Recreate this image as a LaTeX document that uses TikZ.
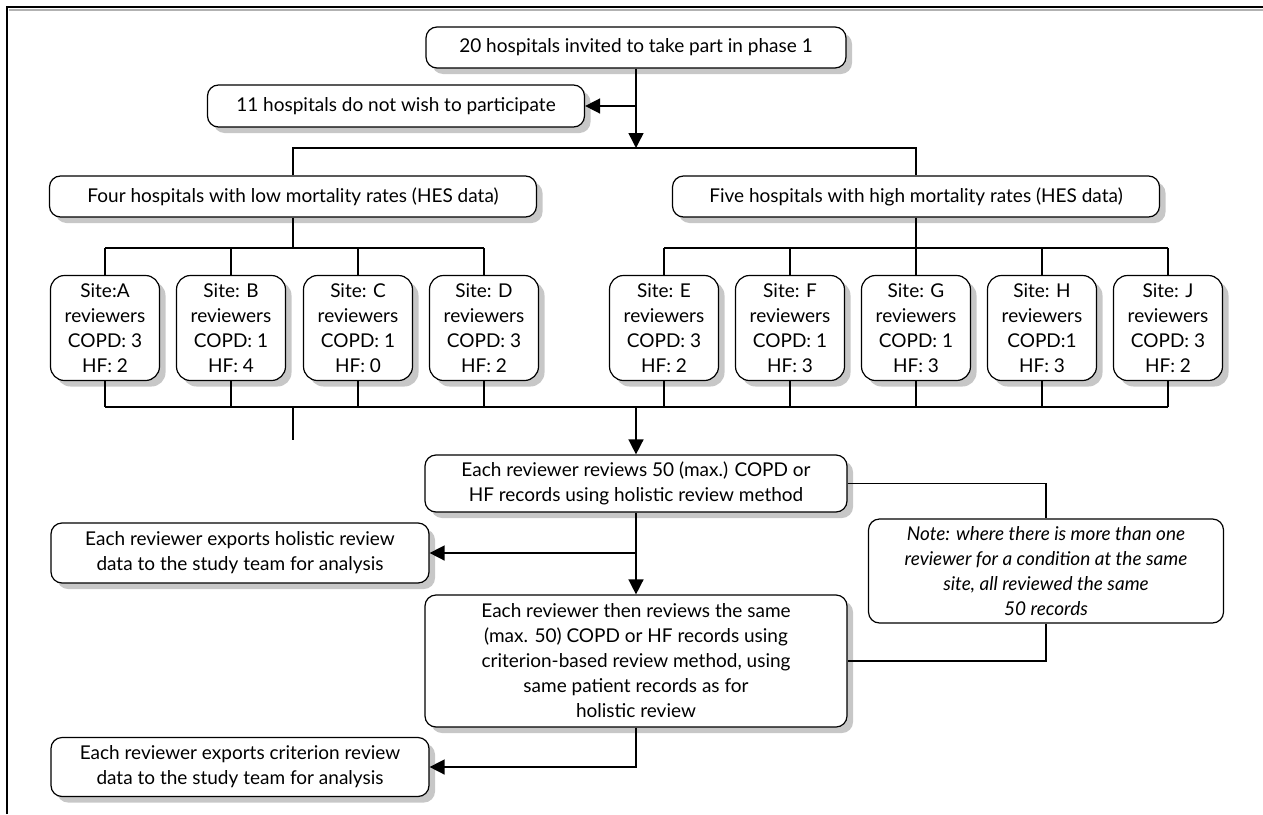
\documentclass[tikz,border=0pt]{standalone}
\usepackage{fontspec}
\setmainfont{Lato}
\usetikzlibrary{arrows.meta}
\begin{document}
\begin{tikzpicture}[x=1pt,y=-1pt,
  box/.style={draw, line width=1.2pt, rounded corners=11pt, fill=white, align=center,
    inner sep=2pt, font=\fontsize{19}{25}\selectfont,
    preaction={draw=none, fill=black!22, transform canvas={xshift=6pt,yshift=-6pt}}},
  plainbox/.style={draw, line width=1.2pt, rounded corners=11pt, fill=white, align=center,
    inner sep=2pt, font=\fontsize{19}{25}\selectfont\itshape},
  sitebox/.style={box, minimum width=109pt, minimum height=105pt, rounded corners=14pt},
  ln/.style={line width=1.5pt},
  arr/.style={line width=1.5pt, -{Triangle[length=15pt,width=15pt]}}]
\useasboundingbox (0,0) rectangle (1263,814);
% frame
\draw[black!30, line width=2pt] (9,10) -- (1263,10);
\draw[line width=1.3pt] (7,814) -- (7,7) -- (1263,7);

\node[box, minimum width=420pt, minimum height=41pt] (top) at (636,47.5) {20 hospitals invited to take part in phase 1};
\node[box, minimum width=377pt, minimum height=42pt] (no) at (396,106) {11 hospitals do not wish to participate};
\node[box, minimum width=487pt, minimum height=41pt] (low) at (293,196.5) {Four hospitals with low mortality rates (HES data)};
\node[box, minimum width=487pt, minimum height=41pt] (high) at (916,196.5) {Five hospitals with high mortality rates (HES data)};

\node[sitebox] (sA) at (105,328) {Site:A\\reviewers\\COPD: 3\\HF: 2};
\node[sitebox] (sB) at (231,328) {Site: B\\reviewers\\COPD: 1\\HF: 4};
\node[sitebox] (sC) at (358,328) {Site: C\\reviewers\\COPD: 1\\HF: 0};
\node[sitebox] (sD) at (484,328) {Site: D\\reviewers\\COPD: 3\\HF: 2};
\node[sitebox] (sE) at (664,328) {Site: E\\reviewers\\COPD: 3\\HF: 2};
\node[sitebox] (sF) at (790,328) {Site: F\\reviewers\\COPD: 1\\HF: 3};
\node[sitebox] (sG) at (916,328) {Site: G\\reviewers\\COPD: 1\\HF: 3};
\node[sitebox] (sH) at (1042,328) {Site: H\\reviewers\\COPD:1\\HF: 3};
\node[sitebox] (sJ) at (1168,328) {Site: J\\reviewers\\COPD: 3\\HF: 2};

\node[box, minimum width=422pt, minimum height=57pt] (rev1) at (636,483.5) {Each reviewer reviews 50 (max.) COPD or\\HF records using holistic review method};
\node[box, minimum width=378pt, minimum height=60pt] (hol) at (240,553) {Each reviewer exports holistic review\\data to the study team for analysis};
\node[box, minimum width=422pt, minimum height=132pt] (rev2) at (636,661) {Each reviewer then reviews the same\\(max. 50) COPD or HF records using\\criterion-based review method, using\\same patient records as for\\holistic review};
\node[plainbox, minimum width=355pt, minimum height=104pt] (note) at (1046,571) {Note: where there is more than one\\reviewer for a condition at the same\\site, all reviewed the same\\50 records};
\node[box, minimum width=378pt, minimum height=59pt] (crit) at (240,767) {Each reviewer exports criterion review\\data to the study team for analysis};

\coordinate (br) at (636,148);
\coordinate (lb) at (293,248);
\coordinate (rb) at (916,248);
\coordinate (cl) at (636,407);
\coordinate (stub) at (293,440);

% top
\draw[arr] (top.south) -- (br);
\draw[arr] (top.south |- no.east) -- (no.east);
\draw[ln] (low.north) |- (br) -| (high.north);
% site branches
\draw[ln] (low.south) -- (lb);
\draw[ln] (high.south) -- (rb);
\draw[ln] (sA.north |- lb) -- (sD.north |- lb);
\draw[ln] (sE.north |- rb) -- (sJ.north |- rb);
\foreach \s in {sA,sB,sC,sD}{\draw[ln] (\s.north) -- (\s.north |- lb);}
\foreach \s in {sE,sF,sG,sH,sJ}{\draw[ln] (\s.north) -- (\s.north |- rb);}
% collect
\foreach \s in {sA,sB,sC,sD,sE,sF,sG,sH,sJ}{\draw[ln] (\s.south) -- (\s.south |- cl);}
\draw[ln] (sA.south |- cl) -- (sJ.south |- cl);
\draw[ln] (stub |- cl) -- (stub);
\draw[arr] (cl) -- (rev1.north);
% reviews
\draw[arr] (rev1.south) -- (rev2.north);
\draw[arr] (rev1.south |- hol.east) -- (hol.east);
\draw[arr] (rev2.south) |- (crit.east);
\draw[ln] (rev1.east) -| (note.north);
\draw[ln] (note.south) |- (rev2.east);
\end{tikzpicture}
\end{document}
